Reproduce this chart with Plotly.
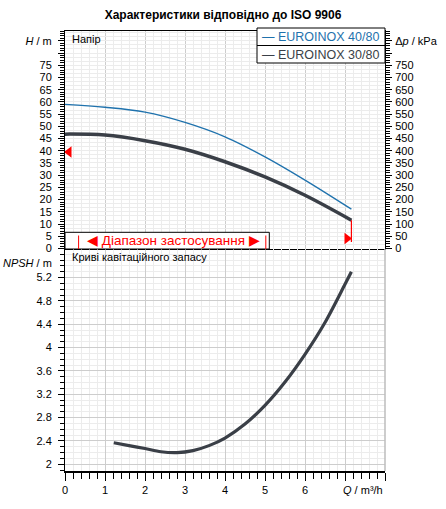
import plotly.graph_objects as go

# ---- data ----
q_4080 = [0, 1, 2, 3, 4, 5, 6, 7.16]
h_4080 = [59.0, 57.8, 55.8, 51.6, 45.7, 37.5, 28.0, 16.1]

q_3080 = [0, 1, 2, 3, 4, 5, 6, 7.16]
h_3080 = [46.8, 46.4, 44.1, 40.6, 35.5, 29.3, 21.8, 11.6]

q_npsh = [1.22, 1.6, 2.0, 2.4, 2.8, 3.2, 3.6, 4.0, 4.5, 5.0, 5.5, 6.0, 6.5, 7.0, 7.16]
npsh = [2.37, 2.32, 2.27, 2.215, 2.20, 2.235, 2.32, 2.45, 2.69, 3.01, 3.41, 3.885, 4.43, 5.085, 5.30]

# red range markers
left_marker_q = [0.1]
left_marker_h = [39.5]
right_marker_q = [7.05]
right_marker_h = [4.1]
end_line_q = [7.16, 7.16]
end_line_h = [11.6, 2.7]
range_lines_q = [0.34, 5.02]

h_tickvals = list(range(0, 90, 5))
h_ticktext = [str(v) for v in range(0, 80, 5)] + ["", "<i>H</i> / m"]
p_tickvals = list(range(0, 900, 50))
p_ticktext = [str(v) for v in range(0, 800, 50)] + ["", "Δ<i>p</i> / kPa"]
npsh_tickvals = [2.0, 2.4, 2.8, 3.2, 3.6, 4.0, 4.4, 4.8, 5.2]
npsh_ticktext = ["2", "2.4", "2.8", "3.2", "3.6", "4", "4.4", "4.8", "5.2"]
q_tickvals = list(range(0, 9))
q_ticktext = ["0", "1", "2", "3", "4", "5", "6", "", ""]

BLUE = "#1f72ad"
DARK = "#3a3f47"
RED = "#ff0000"
MAJ = "#cdcdcd"
MIN = "#ececec"
FONT = "Liberation Sans, Arial, sans-serif"

W, H = 446, 509
L, R, T, B = 65, 61, 31, 38
ph = H - T - B
split = (H - B - 249) / ph


def px(xp):
    return (xp - L) / (W - L - R)


def py(yp):
    return (H - B - yp) / ph


fig = go.Figure()
fig.add_trace(go.Scatter(x=q_4080, y=h_4080, mode="lines", line=dict(color=BLUE, width=1.3, shape="spline"),
                         xaxis="x", yaxis="y", showlegend=False, hoverinfo="skip"))
fig.add_trace(go.Scatter(x=q_3080, y=h_3080, mode="lines", line=dict(color=DARK, width=3.5, shape="spline"),
                         xaxis="x", yaxis="y", showlegend=False, hoverinfo="skip"))
fig.add_trace(go.Scatter(x=end_line_q, y=end_line_h, mode="lines", line=dict(color=RED, width=1.2),
                         xaxis="x", yaxis="y", showlegend=False, hoverinfo="skip"))
fig.add_trace(go.Scatter(x=left_marker_q, y=left_marker_h, mode="markers",
                         marker=dict(symbol="triangle-left", size=10, color=RED),
                         xaxis="x", yaxis="y", showlegend=False, hoverinfo="skip"))
fig.add_trace(go.Scatter(x=right_marker_q, y=right_marker_h, mode="markers",
                         marker=dict(symbol="triangle-right", size=10, color=RED),
                         xaxis="x", yaxis="y", showlegend=False, hoverinfo="skip"))
fig.add_trace(go.Scatter(x=q_npsh, y=npsh, mode="lines",
                         line=dict(color=DARK, width=3.2, shape="spline", smoothing=0.9),
                         xaxis="x2", yaxis="y2", showlegend=False, hoverinfo="skip"))
# dummy traces for overlay axes
fig.add_trace(go.Scatter(x=[None], y=[None], xaxis="x", yaxis="y3", showlegend=False, hoverinfo="skip"))
fig.add_trace(go.Scatter(x=[None], y=[None], xaxis="x", yaxis="y4", showlegend=False, hoverinfo="skip"))

tickfont = dict(family=FONT, size=11, color="black")

fig.update_layout(
    template="none",
    width=W, height=H,
    margin=dict(l=L, r=R, t=T, b=B, pad=0),
    paper_bgcolor="white", plot_bgcolor="white",
    font=dict(family=FONT, size=11, color="black"),
    title=dict(text="<b>Характеристики відповідно до ISO 9906</b>", x=0.5, xref="container", xanchor="center",
               y=1 - 15 / H, yref="container", yanchor="middle", font=dict(family=FONT, size=12, color="black")),
    xaxis=dict(domain=[0, 1], anchor="y", range=[0, 8], showticklabels=False, ticks="", automargin=False,
               showline=True, linecolor="black", linewidth=1, mirror=True,
               showgrid=True, gridcolor=MAJ, dtick=1, tick0=0,
               minor=dict(dtick=0.2, showgrid=True, gridcolor=MIN, ticks=""), zeroline=False),
    yaxis=dict(domain=[split, 1], anchor="x", range=[-0.2, 89], tickmode="array", automargin=False,
               tickvals=h_tickvals, ticktext=h_ticktext, ticks="outside", ticklen=6, tickcolor="black",
               ticklabelstandoff=4,
               showline=True, linecolor="black", showgrid=True, gridcolor=MAJ, zeroline=False,
               minor=dict(dtick=1, tick0=0, ticks="outside", ticklen=4, tickcolor="black", showgrid=False),
               tickfont=tickfont),
    yaxis3=dict(overlaying="y", side="right", anchor="x", range=[-2, 890], tickmode="array", automargin=False,
                tickvals=p_tickvals, ticktext=p_ticktext, ticks="outside", ticklen=6, tickcolor="black",
                ticklabelstandoff=1,
                showline=True, linecolor="black", showgrid=False, zeroline=False,
                minor=dict(dtick=10, tick0=0, ticks="outside", ticklen=4, tickcolor="black", showgrid=False),
                tickfont=tickfont),
    yaxis4=dict(overlaying="y", anchor="x", range=[-0.2, 89], dtick=5 / 3, tick0=0, automargin=False,
                showticklabels=False, ticks="", showline=False, showgrid=True, gridcolor=MIN, zeroline=False),
    xaxis2=dict(domain=[0, 1], anchor="y2", range=[0, 8], tickmode="array", tickvals=q_tickvals,
                ticktext=q_ticktext, ticks="outside", ticklen=8, tickcolor="black", automargin=False,
                showline=True, linecolor="black", linewidth=1.5, showgrid=True, gridcolor=MAJ, zeroline=False,
                minor=dict(dtick=0.2, tick0=0, ticks="outside", ticklen=6, tickcolor="black",
                           showgrid=True, gridcolor=MIN),
                tickfont=tickfont),
    yaxis2=dict(domain=[0, split], anchor="x2", range=[1.885, 5.69], tickmode="array", automargin=False,
                tickvals=npsh_tickvals, ticktext=npsh_ticktext, ticks="outside", ticklen=6, tickcolor="black",
                ticklabelstandoff=4,
                showline=True, linecolor="black", showgrid=True, gridcolor=MAJ, zeroline=False,
                minor=dict(dtick=0.1, tick0=0, ticks="outside", ticklen=4, tickcolor="black",
                           showgrid=True, gridcolor=MIN),
                tickfont=tickfont),
)

shapes = [
    # right border of NPSH plot
    dict(type="line", xref="paper", yref="paper", x0=1, x1=1, y0=0, y1=split,
         line=dict(color="#bdbdbd", width=1.5)),
    # legend box
    dict(type="rect", xref="paper", yref="paper", x0=px(257), x1=1.0, y0=py(63), y1=py(28),
         fillcolor="white", line=dict(color="black", width=1), layer="above"),
    dict(type="line", xref="paper", yref="paper", x0=px(257), x1=1.0, y0=py(45.5), y1=py(45.5),
         line=dict(color="black", width=1), layer="above"),
    # application range box
    dict(type="rect", xref="paper", yref="paper", x0=0, x1=px(269.3), y0=split, y1=py(232.3),
         fillcolor="white", line=dict(color="black", width=1), layer="above"),
]
for qv in range_lines_q:
    shapes.append(dict(type="line", xref="x", yref="paper", x0=qv, x1=qv, y0=split, y1=py(235.5),
                       line=dict(color=RED, width=1), layer="above"))
fig.update_layout(shapes=shapes)

annotations = [
    dict(text="Напір", xref="paper", yref="paper", x=px(70), y=1, xanchor="left", yanchor="top",
         showarrow=False, font=dict(size=11)),
    dict(text="Криві кавітаційного запасу", xref="paper", yref="paper", x=px(70), y=split,
         xanchor="left", yanchor="top", showarrow=False, font=dict(size=11)),
    dict(text="— EUROINOX 40/80", xref="paper", yref="paper", x=px(381), y=py(37), xanchor="right",
         yanchor="middle", showarrow=False, font=dict(size=12.5, color=BLUE)),
    dict(text="— EUROINOX 30/80", xref="paper", yref="paper", x=px(381), y=py(54.5), xanchor="right",
         yanchor="middle", showarrow=False, font=dict(size=12.5, color=DARK)),
    dict(text="◀ Діапазон застосування ▶", xref="paper", yref="paper", x=px(173), y=py(240.5),
         xanchor="center", yanchor="middle", showarrow=False, font=dict(size=13.5, color=RED)),
    dict(text="<i>NPSH</i> / m", xref="paper", yref="y2", x=0, y=5.45, xanchor="right", yanchor="middle",
         xshift=-11, showarrow=False, font=dict(size=11)),
    dict(text="<i>Q</i> / m³/h", xref="x2", yref="paper", x=8, y=0, xanchor="right", yanchor="top",
         yshift=-11, showarrow=False, font=dict(size=11)),
]
fig.update_layout(annotations=annotations)

fig.write_html("out.html", config={"displayModeBar": False},
               post_script="document.body.style.margin='0';document.body.style.padding='0';")
